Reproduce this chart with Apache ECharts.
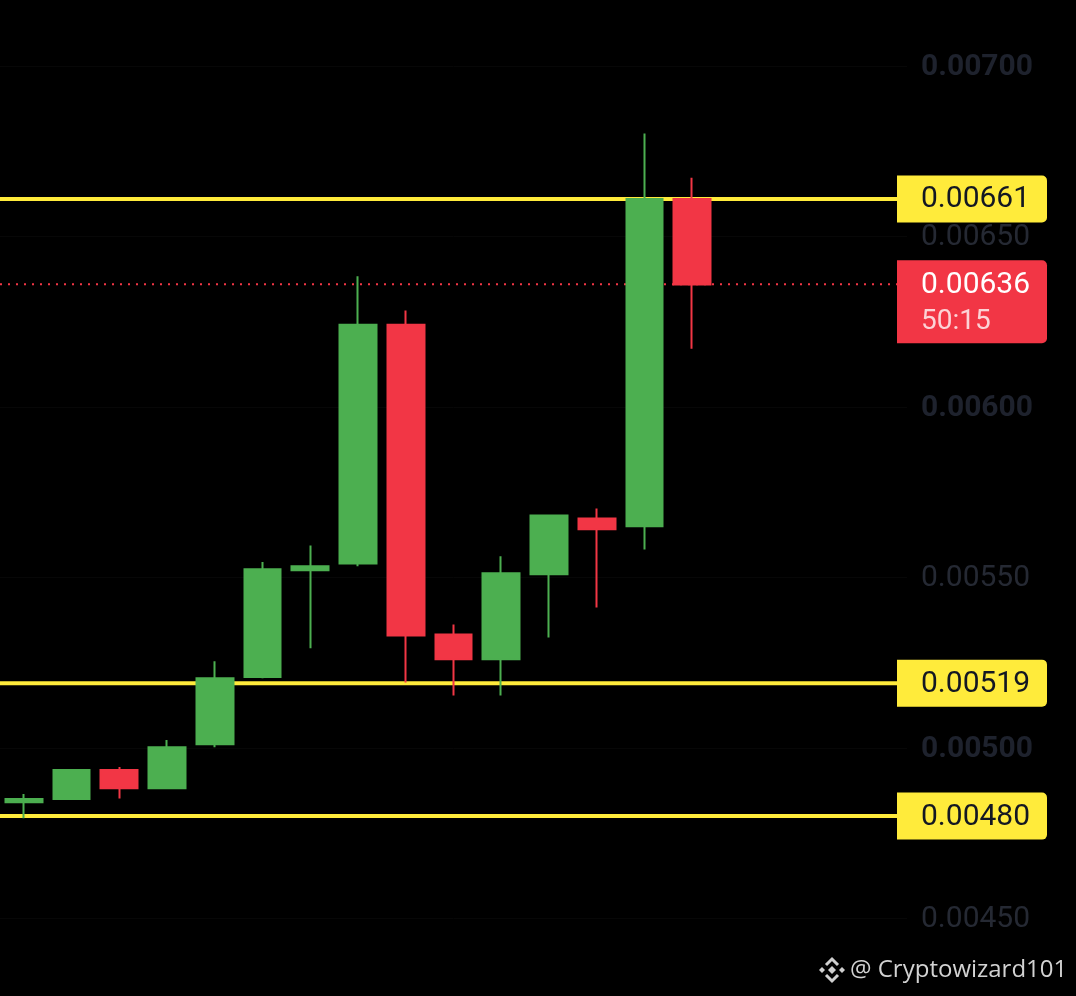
<!DOCTYPE html>
<html>
<head>
<meta charset="utf-8">
<script src="https://cdn.jsdelivr.net/npm/echarts@6/dist/echarts.min.js"></script>
<style>
html,body{margin:0;padding:0;background:#000;}
#chart{width:1076px;height:996px;}
</style>
</head>
<body>
<div id="chart"></div>
<script>
// ---- data ----
const candleLabels = ['C1','C2','C3','C4','C5','C6','C7','C8','C9','C10','C11','C12','C13','C14','C15'];
const futureSlots = ['F1','F2','F3','F4'];
const opens  = [0.004841,0.004850,0.004935,0.004882,0.005011,0.005208,0.005521,0.005541,0.006241,0.005333,0.005260,0.005509,0.005673,0.005650,0.006610];
const closes = [0.004850,0.004935,0.004882,0.005002,0.005204,0.005524,0.005533,0.006241,0.005330,0.005260,0.005512,0.005682,0.005641,0.006610,0.006359];
const lows   = [0.004794,0.004848,0.004852,0.004880,0.005002,0.005204,0.005292,0.005533,0.005192,0.005154,0.005154,0.005324,0.005412,0.005582,0.006171];
const highs  = [0.004865,0.004937,0.004944,0.005023,0.005254,0.005545,0.005594,0.006383,0.006283,0.005362,0.005562,0.005682,0.005702,0.006802,0.006672];
const levels = [0.00661, 0.00519, 0.00480];
const levelLabels = ['0.00661','0.00519','0.00480'];
const currentPrice = 0.00636;
const currentPriceLabel = '0.00636';
const countdown = '50:15';
const yMin = 0.0045, yMax = 0.007, yStep = 0.0005;

const GREEN = '#4caf50', RED = '#f23645', YELLOW = '#ffeb3b';
const FONT = 'Roboto';

const candleData = opens.map((o, i) => [o, closes[i], lows[i], highs[i]]);

const levelSeries = levels.map(v => ({
  type: 'line',
  xAxisIndex: 1,
  data: [[0, v], [1, v]],
  symbol: 'none',
  silent: true,
  z: 1,
  lineStyle: { color: YELLOW, width: 4, type: 'solid' }
}));
const priceSeries = {
  type: 'line',
  xAxisIndex: 1,
  data: [[0, currentPrice], [1, currentPrice]],
  symbol: 'none',
  silent: true,
  z: 1,
  lineStyle: { color: RED, width: 2, type: [2, 6] }
};

const chart = echarts.init(document.getElementById('chart'));
chart.setOption({
  animation: false,
  backgroundColor: '#000',
  grid: { left: -1, right: 169, top: 66, bottom: 77.6 },
  xAxis: [{
    type: 'category',
    data: candleLabels.concat(futureSlots),
    boundaryGap: true,
    axisLine: { show: false },
    axisTick: { show: false },
    axisLabel: { show: false },
    splitLine: { show: false }
  }, {
    type: 'value',
    min: 0, max: 1,
    show: false
  }],
  yAxis: {
    type: 'value',
    position: 'right',
    min: yMin, max: yMax, interval: yStep,
    axisLine: { show: false },
    axisTick: { show: false },
    splitLine: { show: true, lineStyle: { color: '#070707', width: 1 } },
    axisLabel: {
      margin: 14,
      align: 'left',
      padding: [3, 0, 0, 0],
      formatter: function (v) {
        const k = Math.round(v / yStep);
        return (k % 2 === 0 ? '{b|' : '{n|') + v.toFixed(5) + '}';
      },
      rich: {
        b: { fontFamily: FONT, fontSize: 30, fontWeight: 'bold', color: '#1e222d' },
        n: { fontFamily: FONT, fontSize: 30, fontWeight: 'normal', color: '#252933' }
      }
    }
  },
  series: [{
    type: 'candlestick',
    data: candleData,
    barWidth: '78%',
    z: 5,
    itemStyle: {
      color: GREEN, color0: RED,
      borderColor: GREEN, borderColor0: RED,
      borderWidth: 2
    }
  }].concat(levelSeries, [priceSeries])
});

function buildGraphics() {
  const g = [];
  levels.forEach((v, i) => {
    const py = chart.convertToPixel({ yAxisIndex: 0 }, v);
    g.push({
      type: 'rect', z: 100,
      shape: { x: 897, y: py - 23.5, width: 150, height: 47, r: [0, 5, 5, 0] },
      style: { fill: YELLOW }
    });
    g.push({
      type: 'text', z: 101,
      style: { x: 921, y: py + 1, text: levelLabels[i], fill: '#131722',
        font: 'normal 30px ' + FONT, textVerticalAlign: 'middle', textAlign: 'left' }
    });
  });
  const cy = chart.convertToPixel({ yAxisIndex: 0 }, currentPrice);
  g.push({
    type: 'rect', z: 100,
    shape: { x: 897, y: cy - 24, width: 150, height: 83, r: [0, 5, 5, 0] },
    style: { fill: RED }
  });
  g.push({
    type: 'text', z: 101,
    style: { x: 921, y: cy + 1, text: currentPriceLabel, fill: '#ffffff',
      font: 'normal 30px ' + FONT, textVerticalAlign: 'middle', textAlign: 'left' }
  });
  g.push({
    type: 'text', z: 101,
    style: { x: 921, y: cy + 38, text: countdown, fill: 'rgba(255,255,255,0.78)',
      font: 'normal 28px ' + FONT, textVerticalAlign: 'middle', textAlign: 'left' }
  });
  // watermark
  const wc = '#cfcfcf';
  g.push({ type: 'polygon', z: 120, shape: { points: [[832,966],[836,970],[832,974],[828,970]] }, style: { fill: wc } });
  g.push({ type: 'polygon', z: 120, shape: { points: [[822,967],[825,970],[822,973],[819,970]] }, style: { fill: wc } });
  g.push({ type: 'polygon', z: 120, shape: { points: [[842,967],[845,970],[842,973],[839,970]] }, style: { fill: wc } });
  g.push({ type: 'polyline', z: 120, shape: { points: [[826,965],[832,959],[838,965]] }, style: { stroke: wc, lineWidth: 3, fill: null } });
  g.push({ type: 'polyline', z: 120, shape: { points: [[826,975],[832,981],[838,975]] }, style: { stroke: wc, lineWidth: 3, fill: null } });
  g.push({
    type: 'text', z: 120,
    style: { x: 850, y: 970, text: '@ Cryptowizard101', fill: '#d2d2d2',
      font: 'normal 24px "Open Sans"', textVerticalAlign: 'middle', textAlign: 'left' }
  });
  chart.setOption({ graphic: g });
}
buildGraphics();
</script>
</body>
</html>
